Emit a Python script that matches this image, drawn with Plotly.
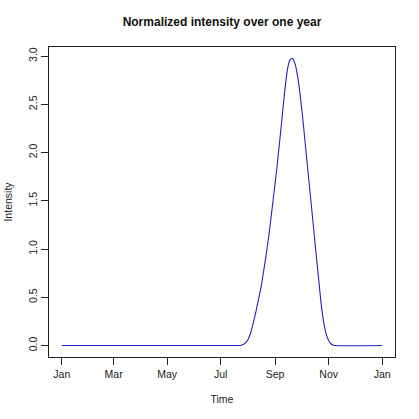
"""Normalized intensity over one year, R base-graphics look."""

import plotly.graph_objects as go

# dates with readings (baseline zero outside the season)
dates = [
    "2023-01-01", "2023-07-20",
    "2023-07-23", "2023-07-26", "2023-07-29", "2023-08-01", "2023-08-04",
    "2023-08-07", "2023-08-10", "2023-08-13", "2023-08-16", "2023-08-19",
    "2023-08-22", "2023-08-25", "2023-08-28", "2023-08-31", "2023-09-03",
    "2023-09-06", "2023-09-09", "2023-09-12", "2023-09-15", "2023-09-18",
    "2023-09-21", "2023-09-24", "2023-09-27", "2023-09-30", "2023-10-03",
    "2023-10-06", "2023-10-09", "2023-10-12", "2023-10-15", "2023-10-18",
    "2023-10-21", "2023-10-24", "2023-10-27", "2023-10-30", "2023-11-02",
    "2023-11-05", "2023-11-08", "2024-01-01",
]
intensity = [
    0.0, 0.0,
    0.001, 0.008, 0.025, 0.06, 0.127,
    0.23, 0.345, 0.475, 0.605, 0.775,
    0.955, 1.15, 1.375, 1.605, 1.84,
    2.10, 2.37, 2.64, 2.86, 2.965,
    2.975, 2.91, 2.77, 2.56, 2.31,
    2.03, 1.755, 1.48, 1.20, 0.925,
    0.65, 0.39, 0.21, 0.095, 0.035,
    0.008, 0.0, 0.0,
]

tick_dates = ["2023-01-01", "2023-03-01", "2023-05-01", "2023-07-01",
              "2023-09-01", "2023-11-01", "2024-01-01"]
tick_text = ["Jan", "Mar", "May", "Jul", "Sep", "Nov", "Jan"]
y_ticks = [0.0, 0.5, 1.0, 1.5, 2.0, 2.5, 3.0]

font = "Liberation Sans, Arial, sans-serif"

fig = go.Figure()
fig.add_trace(go.Scatter(
    x=dates, y=intensity,
    mode="lines",
    line=dict(color="#2222BB", width=1.1, shape="spline", smoothing=0.5),
    showlegend=False,
))

axis_style = dict(
    showline=True, linecolor="#222222", linewidth=1, mirror=True,
    ticks="outside", ticklen=7, tickcolor="#222222", tickwidth=1,
    showgrid=False, zeroline=False, automargin=False,
    tickfont=dict(family=font, size=10.5, color="#222222"),
)

fig.update_layout(
    width=419, height=419,
    paper_bgcolor="white", plot_bgcolor="white",
    margin=dict(l=49, r=24, t=47, b=62),
    font=dict(family=font, color="#222222"),
    title=dict(
        text="<b>Normalized intensity over one year</b>",
        font=dict(family=font, size=12, color="#111111"),
        x=(49 + 395) / 2 / 419, xanchor="center",
        y=1 - 22 / 419, yanchor="middle",
    ),
    xaxis=dict(
        **axis_style,
        type="date",
        range=["2022-12-17 10:00", "2024-01-15 14:00"],
        tickvals=tick_dates, ticktext=tick_text,
        title=dict(text="Time", font=dict(family=font, size=10.5), standoff=17),
    ),
    yaxis=dict(
        **axis_style,
        range=[-0.119, 3.095],
        tickvals=y_ticks, ticktext=[f"{v:.1f}" for v in y_ticks],
        tickangle=-90,
        title=dict(text="Intensity", font=dict(family=font, size=10.5), standoff=12),
    ),
)

# the page's default body margin would shift the chart by 8px
fig.write_html("out.html", config={"displayModeBar": False},
               post_script="document.body.style.margin='0';")
